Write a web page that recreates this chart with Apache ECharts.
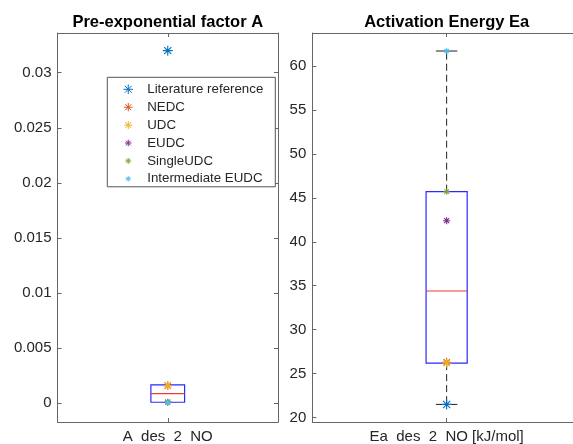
<!DOCTYPE html>
<html><head><meta charset="utf-8">
<script src="https://cdn.jsdelivr.net/npm/echarts@6/dist/echarts.min.js"></script>
<style>html,body{margin:0;padding:0;background:#fff}#c{width:573px;height:444px}</style>
</head><body><div id="c"></div>
<script>
// ---- data ----
const seriesNames = ['Literature reference', 'NEDC', 'UDC', 'EUDC', 'SingleUDC', 'Intermediate EUDC'];
const valuesA  = [0.032, 0.0016, 0.0016, 0.0001, 0.0001, 0.00005];
const valuesEa = [21.5, 26.3, 26.2, 42.4, 45.7, 61.7];
// box stats: [lowWhisker, q1, median, q3, highWhisker]
const boxA  = [0.00009, 0.00009, 0.00087, 0.00166, 0.00166];
const boxEa = [21.5, 26.2, 34.4, 45.7, 61.7];
const titles = ['Pre-exponential factor A', 'Activation Energy Ea'];
const xLabels = ['A  des  2  NO', 'Ea  des  2  NO [kJ/mol]'];
const ticksA  = [0, 0.005, 0.01, 0.015, 0.02, 0.025, 0.03];
const ticksEa = [20, 25, 30, 35, 40, 45, 50, 55, 60];

// ---- styles ----
const colors = ['#0072BD', '#D95319', '#EDB120', '#7E2F8E', '#77AC30', '#4DBEEE'];
const radii = [5, 4.4, 4.3, 3.5, 3.1, 2.8];
const FONT = "'Liberation Sans', Arial, Helvetica, sans-serif";
const AX = '#666';
function star(r) {
  const a = (r * 0.72).toFixed(2);
  return 'path://M-5,-5M5,5M0,-' + r + 'L0,' + r + 'M-' + r + ',0L' + r + ',0M-' + a + ',-' + a + 'L' + a + ',' + a + 'M-' + a + ',' + a + 'L' + a + ',-' + a;
}

// right panel extends past the canvas edge; its visible part ends at 573
const grids = [
  {left: 57.5, top: 33, width: 220.5, height: 389},
  {left: 312.3, top: 33, width: 260.7, height: 389}
];
const xRanges = [[0.5, 1.5], [0.5, 1.4703]];
const titleCenters = [167.75, 446.65];
const yRanges = [[-0.0017, 0.0336], [19.5, 63.75]];
const yTicks = [ticksA, ticksEa];

const option = {
  animation: false,
  backgroundColor: '#fff',
  title: titles.map((t, i) => ({
    text: t, left: titleCenters[i], top: 14, textAlign: 'center', padding: 0,
    textStyle: {fontFamily: FONT, fontSize: 16.5, fontWeight: 'bold', color: '#000', lineHeight: 17}
  })),
  grid: grids.map(g => Object.assign({show: false, containLabel: false, outerBoundsMode: 'none'}, g)),
  xAxis: [],
  yAxis: [],
  legend: {
    orient: 'vertical', left: 107.3, top: 77.3,
    padding: [5.5, 12, 1.5, 15.7],
    itemWidth: 28, itemHeight: 9.5, itemGap: 4.9,
    backgroundColor: '#fff', borderColor: '#555', borderWidth: 1,
    selectedMode: false,
    textStyle: {fontFamily: FONT, fontSize: 13.3, color: '#262626', lineHeight: 13},
    data: seriesNames.map((n, i) => ({
      name: n, icon: star(radii[i]),
      itemStyle: {color: 'transparent', borderColor: colors[i], borderWidth: 1}
    }))
  },
  series: []
};

for (let i = 0; i < 2; i++) {
  option.xAxis.push({
    type: 'value', gridIndex: i, min: xRanges[i][0], max: xRanges[i][1], position: 'bottom',
    axisLine: {show: true, onZero: false, lineStyle: {color: AX, width: 1}}, splitLine: {show: false},
    axisTick: {show: true, inside: true, length: 4, customValues: [1], lineStyle: {color: AX}},
    axisLabel: {show: true, customValues: [1], margin: 7, formatter: () => xLabels[i],
      fontFamily: FONT, fontSize: 15, color: '#262626'}
  });
  option.xAxis.push({
    type: 'value', gridIndex: i, min: xRanges[i][0], max: xRanges[i][1], position: 'top',
    axisLine: {show: true, onZero: false, lineStyle: {color: AX, width: 1}}, splitLine: {show: false},
    axisTick: {show: true, inside: true, length: 4, customValues: [1], lineStyle: {color: AX}},
    axisLabel: {show: false}
  });
  const fmt = i === 0 ? (v => String(+(+v).toFixed(4))) : (v => String(Math.round(v)));
  option.yAxis.push({
    type: 'value', gridIndex: i, min: yRanges[i][0], max: yRanges[i][1], position: 'left',
    axisLine: {show: true, onZero: false, lineStyle: {color: AX, width: 1}}, splitLine: {show: false},
    axisTick: {show: true, inside: true, length: 4, customValues: yTicks[i], lineStyle: {color: AX}},
    axisLabel: {show: true, customValues: yTicks[i], margin: 6, formatter: fmt,
      fontFamily: FONT, fontSize: 15, color: '#262626'}
  });
  option.yAxis.push({
    type: 'value', gridIndex: i, min: yRanges[i][0], max: yRanges[i][1], position: 'right',
    axisLine: {show: i === 0, onZero: false, lineStyle: {color: AX, width: 1}}, splitLine: {show: false},
    axisTick: {show: i === 0, inside: true, length: 4, customValues: yTicks[i], lineStyle: {color: AX}},
    axisLabel: {show: false}
  });
}

const boxes = [boxA, boxEa];
const vals = [valuesA, valuesEa];
for (let i = 0; i < 2; i++) {
  option.series.push({
    type: 'custom', name: 'box' + i, xAxisIndex: i * 2, yAxisIndex: i * 2,
    silent: true, z: 1,
    data: [[1].concat(boxes[i])],
    encode: {x: 0, y: [1, 2, 3, 4, 5]},
    renderItem: function (params, api) {
      const x = api.value(0);
      const low = api.coord([x, api.value(1)]);
      const q1 = api.coord([x, api.value(2)]);
      const med = api.coord([x, api.value(3)]);
      const q3 = api.coord([x, api.value(4)]);
      const high = api.coord([x, api.value(5)]);
      const hw = api.size([0.153, 0])[0] / 2;
      const cw = api.size([0.08, 0])[0] / 2;
      const cx = q1[0];
      const children = [];
      const wStyle = {stroke: '#222', lineWidth: 1, lineDash: [7, 4]};
      const cStyle = {stroke: '#222', lineWidth: 1};
      if (high[1] < q3[1] - 0.5) {
        children.push({type: 'line', shape: {x1: cx, y1: q3[1], x2: cx, y2: high[1]}, style: wStyle});
        children.push({type: 'line', shape: {x1: cx - cw, y1: high[1], x2: cx + cw, y2: high[1]}, style: cStyle});
      }
      if (low[1] > q1[1] + 0.5) {
        children.push({type: 'line', shape: {x1: cx, y1: q1[1], x2: cx, y2: low[1]}, style: wStyle});
        children.push({type: 'line', shape: {x1: cx - cw, y1: low[1], x2: cx + cw, y2: low[1]}, style: cStyle});
      }
      children.push({type: 'rect', shape: {x: cx - hw, y: q3[1], width: 2 * hw, height: q1[1] - q3[1]},
        style: {fill: 'none', stroke: '#2a2aff', lineWidth: 1.2}});
      children.push({type: 'line', shape: {x1: cx - hw, y1: med[1], x2: cx + hw, y2: med[1]},
        style: {stroke: '#f03a3a', lineWidth: 1.2}});
      return {type: 'group', children: children};
    }
  });
  seriesNames.forEach((n, k) => {
    option.series.push({
      type: 'scatter', name: n, xAxisIndex: i * 2, yAxisIndex: i * 2, z: 3 + k,
      symbol: star(radii[k]), symbolSize: 10,
      itemStyle: {color: 'transparent', borderColor: colors[k], borderWidth: 1.1, opacity: 1},
      emphasis: {disabled: true},
      data: [[1, vals[i][k]]]
    });
  });
}

const chart = echarts.init(document.getElementById('c'), null, {renderer: 'canvas'});
chart.setOption(option);
</script>
</body></html>
